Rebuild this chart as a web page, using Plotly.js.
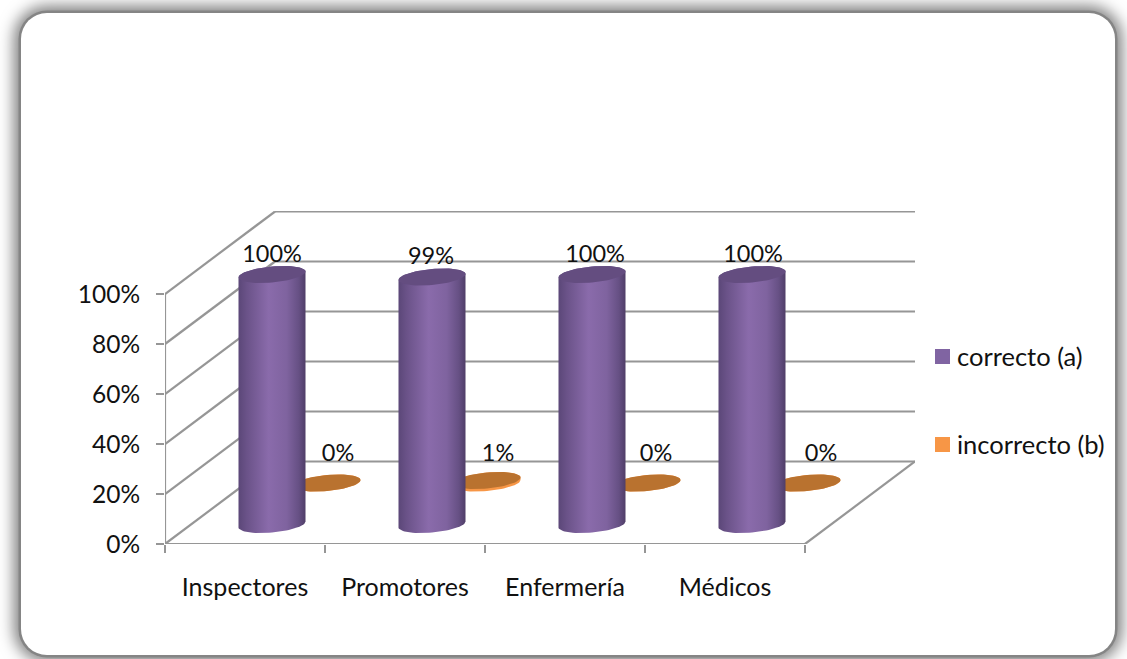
<!DOCTYPE html>
<html lang="es">
<head>
<meta charset="utf-8">
<title>Respuestas por categoría</title>
<script src="https://cdn.plot.ly/plotly-3.0.1.min.js"></script>
<style>
  html, body { margin: 0; padding: 0; width: 1127px; height: 659px; background: #fff; overflow: hidden; }
  #panel {
    position: absolute; left: 21px; top: 13px; width: 1094px; height: 642px;
    background: #fff; border-radius: 26px;
    box-shadow: 0 0 0 2.5px #858585, 0 0 15px 7px #7d7d7d;
  }
  #chart { position: absolute; left: 0; top: 0; width: 1127px; height: 659px; }
</style>
</head>
<body>
<div id="panel"></div>
<div id="chart"></div>
<script>
// Series read per staff category
const categories = ['Inspectores', 'Promotores', 'Enfermería', 'Médicos'];
const correcto = [100, 99, 100, 100];
const incorrecto = [0, 1, 0, 0];
const seriesNames = ['correcto (a)', 'incorrecto (b)'];
const yTicks = [0, 20, 40, 60, 80, 100];

// Oblique projection of the 3D box, in axis units
const PX_X = 160, PX_Y = 2.5;        // pixels per category, pixels per percent
const DEPTH_X = 110 / PX_X, DEPTH_Y = 33;
const GRID = '#969696', FONT = 'Lato, Carlito, sans-serif', INK = '#111111';

const RX = 33.5 / PX_X, RY = 8 / PX_Y, SHEAR = 3 / PX_Y;

// Point on a tilted ellipse outline, t in radians
const rim = (cx, cy, t) => [cx + RX * Math.cos(t), cy + RY * Math.sin(t) + SHEAR * Math.cos(t)];

function capOutline(cx, cy) {
  const xs = [], ys = [];
  for (let i = 0; i <= 72; i++) {
    const p = rim(cx, cy, i / 72 * 2 * Math.PI);
    xs.push(p[0]); ys.push(p[1]);
  }
  return { x: xs, y: ys };
}

function bodyOutline(cx, base, value) {
  const xs = [], ys = [];
  for (let i = 0; i <= 36; i++) {            // front of the base, right to left
    const p = rim(cx, base, -i / 36 * Math.PI);
    xs.push(p[0]); ys.push(p[1]);
  }
  for (let i = 0; i <= 36; i++) {            // back of the top, left to right
    const p = rim(cx, base + value, Math.PI - i / 36 * Math.PI);
    xs.push(p[0]); ys.push(p[1]);
  }
  return { x: xs, y: ys };
}

const traces = [];

function frameLine(x, y) {
  traces.push({ x, y, mode: 'lines', line: { color: GRID, width: 2.2 }, hoverinfo: 'skip',
                showlegend: false, cliponaxis: false });
}

// Back wall, side wall and floor
yTicks.forEach(t => {
  frameLine([DEPTH_X, DEPTH_X + 4], [t + DEPTH_Y, t + DEPTH_Y]);
  frameLine([0, DEPTH_X], [t, t + DEPTH_Y]);
});
frameLine([0, 0], [0, 100]);
frameLine([0, 4], [0, 0]);
frameLine([4, 4 + DEPTH_X], [0, DEPTH_Y]);

// One row of cylinders, drawn with a shaded side and a flat cap
function cylinders(values, xShift, base, side, cap, name) {
  values.forEach((v, i) => {
    const cx = i + 0.5 + xShift;
    const b = bodyOutline(cx, base, v);
    const trace = { x: b.x, y: b.y, mode: 'lines', fill: 'toself', line: { width: 0 },
                    hoverinfo: 'skip', showlegend: false, name, cliponaxis: false };
    if (Array.isArray(side)) {
      trace.fillgradient = { type: 'horizontal', colorscale: side };
    } else {
      trace.fillcolor = side;
    }
    traces.push(trace);
    const c = capOutline(cx, base + v);
    traces.push({ x: c.x, y: c.y, mode: 'lines', fill: 'toself', fillcolor: cap, line: { width: 0 },
                  hoverinfo: 'skip', showlegend: false, name, cliponaxis: false });
  });
}

const purpleSide = [[0, '#5b4778'], [0.12, '#6a5288'], [0.45, '#8a6bab'], [0.72, '#7f639f'], [0.9, '#665084'], [1, '#503e68']];
cylinders(incorrecto, 82 / PX_X, 61 / PX_Y, '#f79646', '#b9722f', seriesNames[1]);
cylinders(correcto, 27 / PX_X, 19.5 / PX_Y, purpleSide, '#644d80', seriesNames[0]);

// Value labels above each cylinder
const labelNudgeA = [0, -1, 3, 1];
const labelNudgeB = [0, 0, -2, 3];
traces.push({
  x: correcto.map((v, i) => i + 0.5 + (27 + labelNudgeA[i]) / PX_X),
  y: correcto.map(v => v + 38 / PX_Y),
  text: correcto.map(v => v + '%'),
  mode: 'text', textposition: 'middle center',
  textfont: { family: FONT, size: 23.5, color: INK },
  hoverinfo: 'skip', showlegend: false, cliponaxis: false
});
traces.push({
  x: incorrecto.map((v, i) => i + 0.5 + (93 + labelNudgeB[i]) / PX_X),
  y: incorrecto.map(() => 89 / PX_Y),
  text: incorrecto.map(v => v + '%'),
  mode: 'text', textposition: 'middle center',
  textfont: { family: FONT, size: 23.5, color: INK },
  hoverinfo: 'skip', showlegend: false, cliponaxis: false
});

// Legend keys and labels, placed in page pixels converted to paper fractions
const W = 1127, H = 659;
const legendColors = ['#8064a2', '#f79646'];
const legendRows = [356.5, 444.5];
const shapes = legendRows.map((py, i) => ({
  type: 'rect', xref: 'paper', yref: 'paper', line: { width: 0 }, fillcolor: legendColors[i],
  x0: (935 - 165) / 750, x1: (950 - 165) / 750,
  y0: (544 - (py + 7.5)) / 333, y1: (544 - (py - 7.5)) / 333
}));
const annotations = legendRows.map((py, i) => ({
  xref: 'paper', yref: 'paper', xanchor: 'left', yanchor: 'middle', showarrow: false,
  x: (957 - 165) / 750, y: (544 - py + 1) / 333, xshift: -2,
  text: seriesNames[i], font: { family: FONT, size: 25.5, color: INK }
}));

const layout = {
  width: W, height: H, autosize: false,
  margin: { l: 165, r: 212, t: 211, b: 115, pad: 0 },
  paper_bgcolor: 'rgba(0,0,0,0)', plot_bgcolor: 'rgba(0,0,0,0)',
  showlegend: false, shapes, annotations,
  font: { family: FONT, size: 24, color: INK },
  xaxis: {
    type: 'linear', range: [0, 750 / PX_X], showgrid: false, zeroline: false, showline: false,
    tickmode: 'array', tickvals: categories.map((c, i) => i + 0.5), ticktext: categories,
    ticks: '', ticklabelstandoff: 26, automargin: false,
    minor: { tickmode: 'array', tickvals: [0, 1, 2, 3, 4], ticks: 'outside', ticklen: 8, tickwidth: 2.2, tickcolor: GRID, showgrid: false },
    tickfont: { family: FONT, size: 25, color: INK }
  },
  yaxis: {
    range: [0, 333 / PX_Y], showgrid: false, zeroline: false, showline: false,
    tickmode: 'array', tickvals: yTicks, ticktext: yTicks.map(t => t + '%'),
    ticks: 'outside', ticklen: 8, tickwidth: 2.2, tickcolor: GRID, ticklabelstandoff: 11, automargin: false,
    tickfont: { family: FONT, size: 24.5, color: INK }
  }
};

Plotly.newPlot('chart', traces, layout, { displayModeBar: false, staticPlot: true });
</script>
</body>
</html>
